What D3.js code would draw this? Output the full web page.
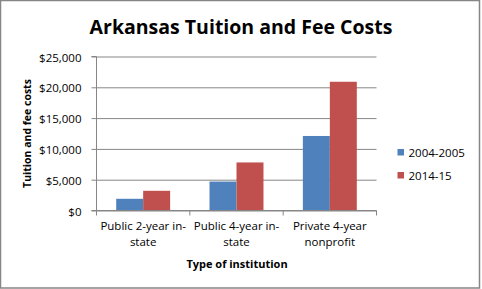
<!DOCTYPE html>
<html>
<head>
<meta charset="utf-8">
<script src="https://cdn.jsdelivr.net/npm/d3@7"></script>
<style>
  body { margin: 0; background: #fff; }
  text { font-family: "Open Sans", "Noto Sans", sans-serif; fill: #000; }
</style>
</head>
<body>
<div id="chart"></div>
<script>
// data
const categories = ['Public 2-year in-state', 'Public 4-year in-state', 'Private 4-year nonprofit']
const categoryLines = [['Public 2-year in-', 'state'], ['Public 4-year in-', 'state'], ['Private 4-year', 'nonprofit']]
const seriesNames = ['2004-2005', '2014-15']
const values2004 = [1900, 4700, 12100]
const values2014 = [3200, 7800, 20900]
const yTicks = [0, 5000, 10000, 15000, 20000, 25000]

const width = 482
const height = 289
const colors = ['#4F81BD', '#C0504D']
const gridColor = '#868686'

const plot = { left: 96.5, right: 376.5, top: 56.5, bottom: 210.5 }

const svg = d3.select('#chart').append('svg')
  .attr('width', width)
  .attr('height', height)

// outer frame
svg.append('rect')
  .attr('x', 0.5).attr('y', 0.5)
  .attr('width', 479).attr('height', 287.5)
  .attr('fill', '#fff')
  .attr('stroke', gridColor)
  .attr('stroke-width', 1.5)

/* Scales */
const x = d3.scaleBand()
  .domain(categories)
  .range([plot.left, plot.right])
  .padding(0)

const xInner = d3.scaleBand()
  .domain(seriesNames)
  .range([0, x.bandwidth()])
  .paddingInner(0)
  .paddingOuter(0.73)

const y = d3.scaleLinear()
  .domain([0, 25000])
  .range([plot.bottom, plot.top])

/* Grid + y axis */
svg.append('g')
  .attr('transform', `translate(${plot.left},0)`)
  .call(d3.axisLeft(y).tickValues(yTicks).tickSize(-(plot.right - plot.left)).tickFormat(''))
  .call(g => g.select('.domain').remove())
  .call(g => g.selectAll('line').attr('stroke', gridColor))

const yAxis = svg.append('g')
  .attr('transform', `translate(${plot.left},0)`)
  .call(d3.axisLeft(y).tickValues(yTicks).tickSize(5).tickPadding(10).tickFormat(d3.format('$,')))
yAxis.select('.domain').attr('stroke', gridColor).attr('d', `M-5,${plot.top}H0V${plot.bottom}H-5`)
yAxis.selectAll('line').attr('stroke', gridColor)
yAxis.selectAll('text')
  .style('font-size', '11.5px')
  .attr('dy', '0.4em')

/* Bars */
const data = categories.map((c, i) => ({ cat: c, vals: [values2004[i], values2014[i]] }))

const groups = svg.append('g').selectAll('g')
  .data(data)
  .join('g')
  .attr('transform', d => `translate(${x(d.cat)},0)`)

groups.selectAll('rect')
  .data(d => d.vals.map((v, j) => ({ name: seriesNames[j], v, j })))
  .join('rect')
  .attr('x', d => xInner(d.name))
  .attr('width', xInner.bandwidth())
  .attr('y', d => y(d.v))
  .attr('height', d => y(0) - y(d.v))
  .attr('fill', d => colors[d.j])

/* X axis */
const xAxis = svg.append('g')
  .attr('transform', `translate(0,${plot.bottom})`)
xAxis.append('line')
  .attr('x1', plot.left).attr('x2', plot.right)
  .attr('stroke', gridColor)
const bounds = categories.map(c => x(c)).concat([x.range()[1]])
xAxis.selectAll('.tick-mark')
  .data(bounds)
  .join('line')
  .attr('class', 'tick-mark')
  .attr('x1', d => d).attr('x2', d => d)
  .attr('y1', 0).attr('y2', 5)
  .attr('stroke', gridColor)

xAxis.selectAll('.cat-label')
  .data(categories)
  .join('text')
  .attr('class', 'cat-label')
  .attr('text-anchor', 'middle')
  .attr('x', d => x(d) + x.bandwidth() / 2)
  .style('font-size', '11.5px')
  .selectAll('tspan')
  .data((d, i) => categoryLines[i])
  .join('tspan')
  .attr('x', function() { return d3.select(this.parentNode).attr('x') })
  .attr('y', (d, k) => 19 + k * 16.5)
  .text(d => d)

/* Titles */
svg.append('text')
  .attr('x', 241)
  .attr('y', 34)
  .attr('text-anchor', 'middle')
  .style('font-size', '19.5px')
  .style('font-weight', 'bold')
  .text('Arkansas Tuition and Fee Costs')

svg.append('text')
  .attr('x', 237)
  .attr('y', 268)
  .attr('text-anchor', 'middle')
  .style('font-size', '11px')
  .style('font-weight', 'bold')
  .text('Type of institution')

svg.append('text')
  .attr('transform', 'translate(31,133.5) rotate(-90)')
  .attr('text-anchor', 'middle')
  .style('font-size', '10.5px')
  .style('font-weight', 'bold')
  .text('Tuition and fee costs')

/* Legend */
const legend = svg.append('g')
  .selectAll('g')
  .data(seriesNames)
  .join('g')
  .attr('transform', (d, i) => `translate(397.5,${149 + i * 23})`)
legend.append('rect')
  .attr('width', 6.5).attr('height', 6.5)
  .attr('fill', (d, i) => colors[i])
legend.append('text')
  .attr('x', 11)
  .attr('y', 3.5)
  .attr('dy', '0.35em')
  .style('font-size', '11.5px')
  .text(d => d)
</script>
</body>
</html>
